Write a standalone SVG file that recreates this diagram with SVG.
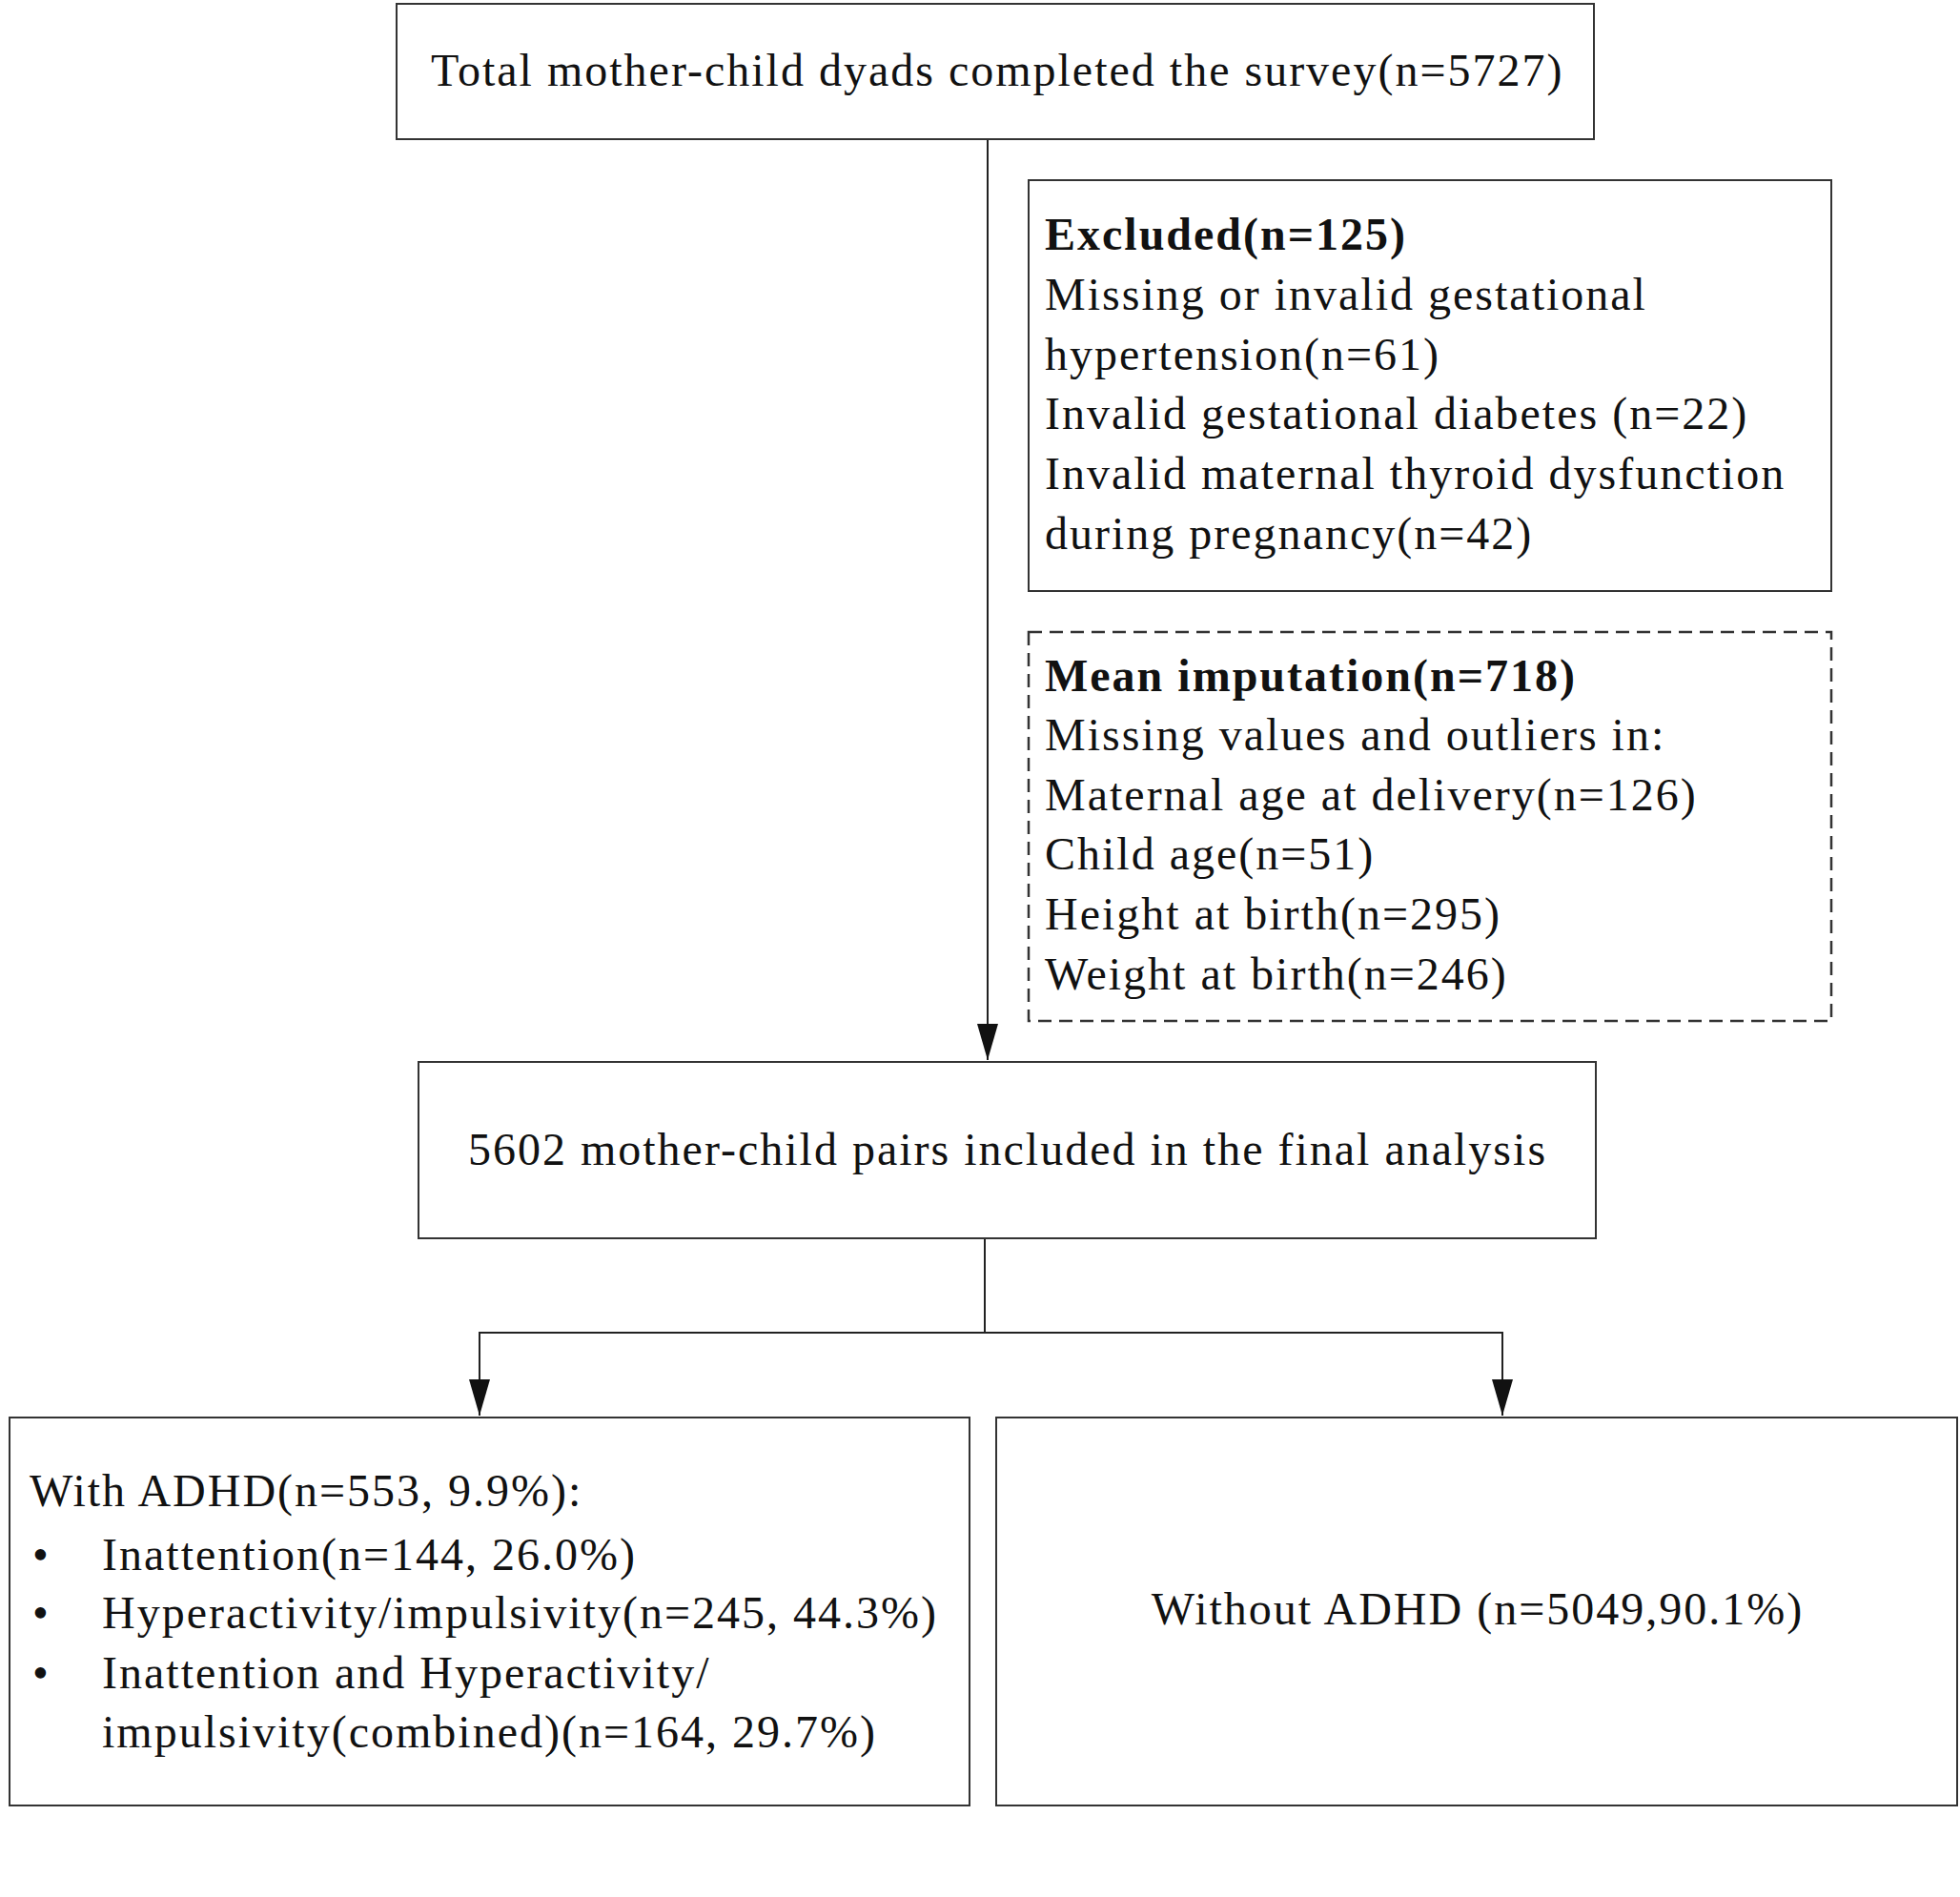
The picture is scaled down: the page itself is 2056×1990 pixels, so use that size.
<svg xmlns="http://www.w3.org/2000/svg" width="2056" height="1990" viewBox="0 0 2056 1990">
<style>
.b{fill:#fff;stroke:#333;stroke-width:2}
.d{fill:#fff;stroke:#333;stroke-width:2.5;stroke-dasharray:14,8}
text{font-family:"Liberation Serif","Times New Roman",serif;font-size:48px;fill:#111;letter-spacing:2px}
.bold{font-weight:bold}
.l{stroke:#222;stroke-width:2;fill:none}
</style>
<rect width="2056" height="1990" fill="#fff"/>
<g id="connectors">
<line class="l" x1="1036" y1="146" x2="1036" y2="1112"/>
<path d="M1025,1074 L1047,1074 L1036,1112 Z" fill="#111"/>
<line class="l" x1="1033" y1="1299" x2="1033" y2="1398"/>
<polyline class="l" points="503,1485 503,1398 1576,1398 1576,1485"/>
<path d="M492,1447 L514,1447 L503,1485 Z" fill="#111"/>
<path d="M1565,1447 L1587,1447 L1576,1485 Z" fill="#111"/>
</g>
<g id="top"><rect class="b" x="416" y="4" width="1256" height="142"/>
<text x="452" y="90">Total mother-child dyads completed the survey(n=5727)</text></g>
<g id="excluded"><rect class="b" x="1079" y="189" width="842" height="431"/>
<text x="1096" y="262" class="bold">Excluded(n=125)</text>
<text x="1096" y="325">Missing or invalid gestational</text>
<text x="1096" y="388">hypertension(n=61)</text>
<text x="1096" y="450">Invalid gestational diabetes (n=22)</text>
<text x="1096" y="513">Invalid maternal thyroid dysfunction</text>
<text x="1096" y="576">during pregnancy(n=42)</text></g>
<g id="imputation"><rect class="d" x="1079" y="663" width="842" height="408"/>
<text x="1096" y="725" class="bold">Mean imputation(n=718)</text>
<text x="1096" y="787">Missing values and outliers in:</text>
<text x="1096" y="850">Maternal age at delivery(n=126)</text>
<text x="1096" y="912">Child age(n=51)</text>
<text x="1096" y="975">Height at birth(n=295)</text>
<text x="1096" y="1038">Weight at birth(n=246)</text></g>
<g id="final"><rect class="b" x="439" y="1114" width="1235" height="185"/>
<text x="1057" y="1222" text-anchor="middle">5602 mother-child pairs included in the final analysis</text></g>
<g id="adhd"><rect class="b" x="10" y="1487" width="1007" height="407"/>
<text x="31" y="1580">With ADHD(n=553, 9.9%):</text>
<text x="34" y="1647">•</text><text x="107" y="1647">Inattention(n=144, 26.0%)</text>
<text x="34" y="1708">•</text><text x="107" y="1708">Hyperactivity/impulsivity(n=245, 44.3%)</text>
<text x="34" y="1771">•</text><text x="107" y="1771">Inattention and Hyperactivity/</text>
<text x="107" y="1833">impulsivity(combined)(n=164, 29.7%)</text></g>
<g id="noadhd"><rect class="b" x="1045" y="1487" width="1008" height="407"/>
<text x="1550" y="1704" text-anchor="middle">Without ADHD (n=5049,90.1%)</text></g>
</svg>
